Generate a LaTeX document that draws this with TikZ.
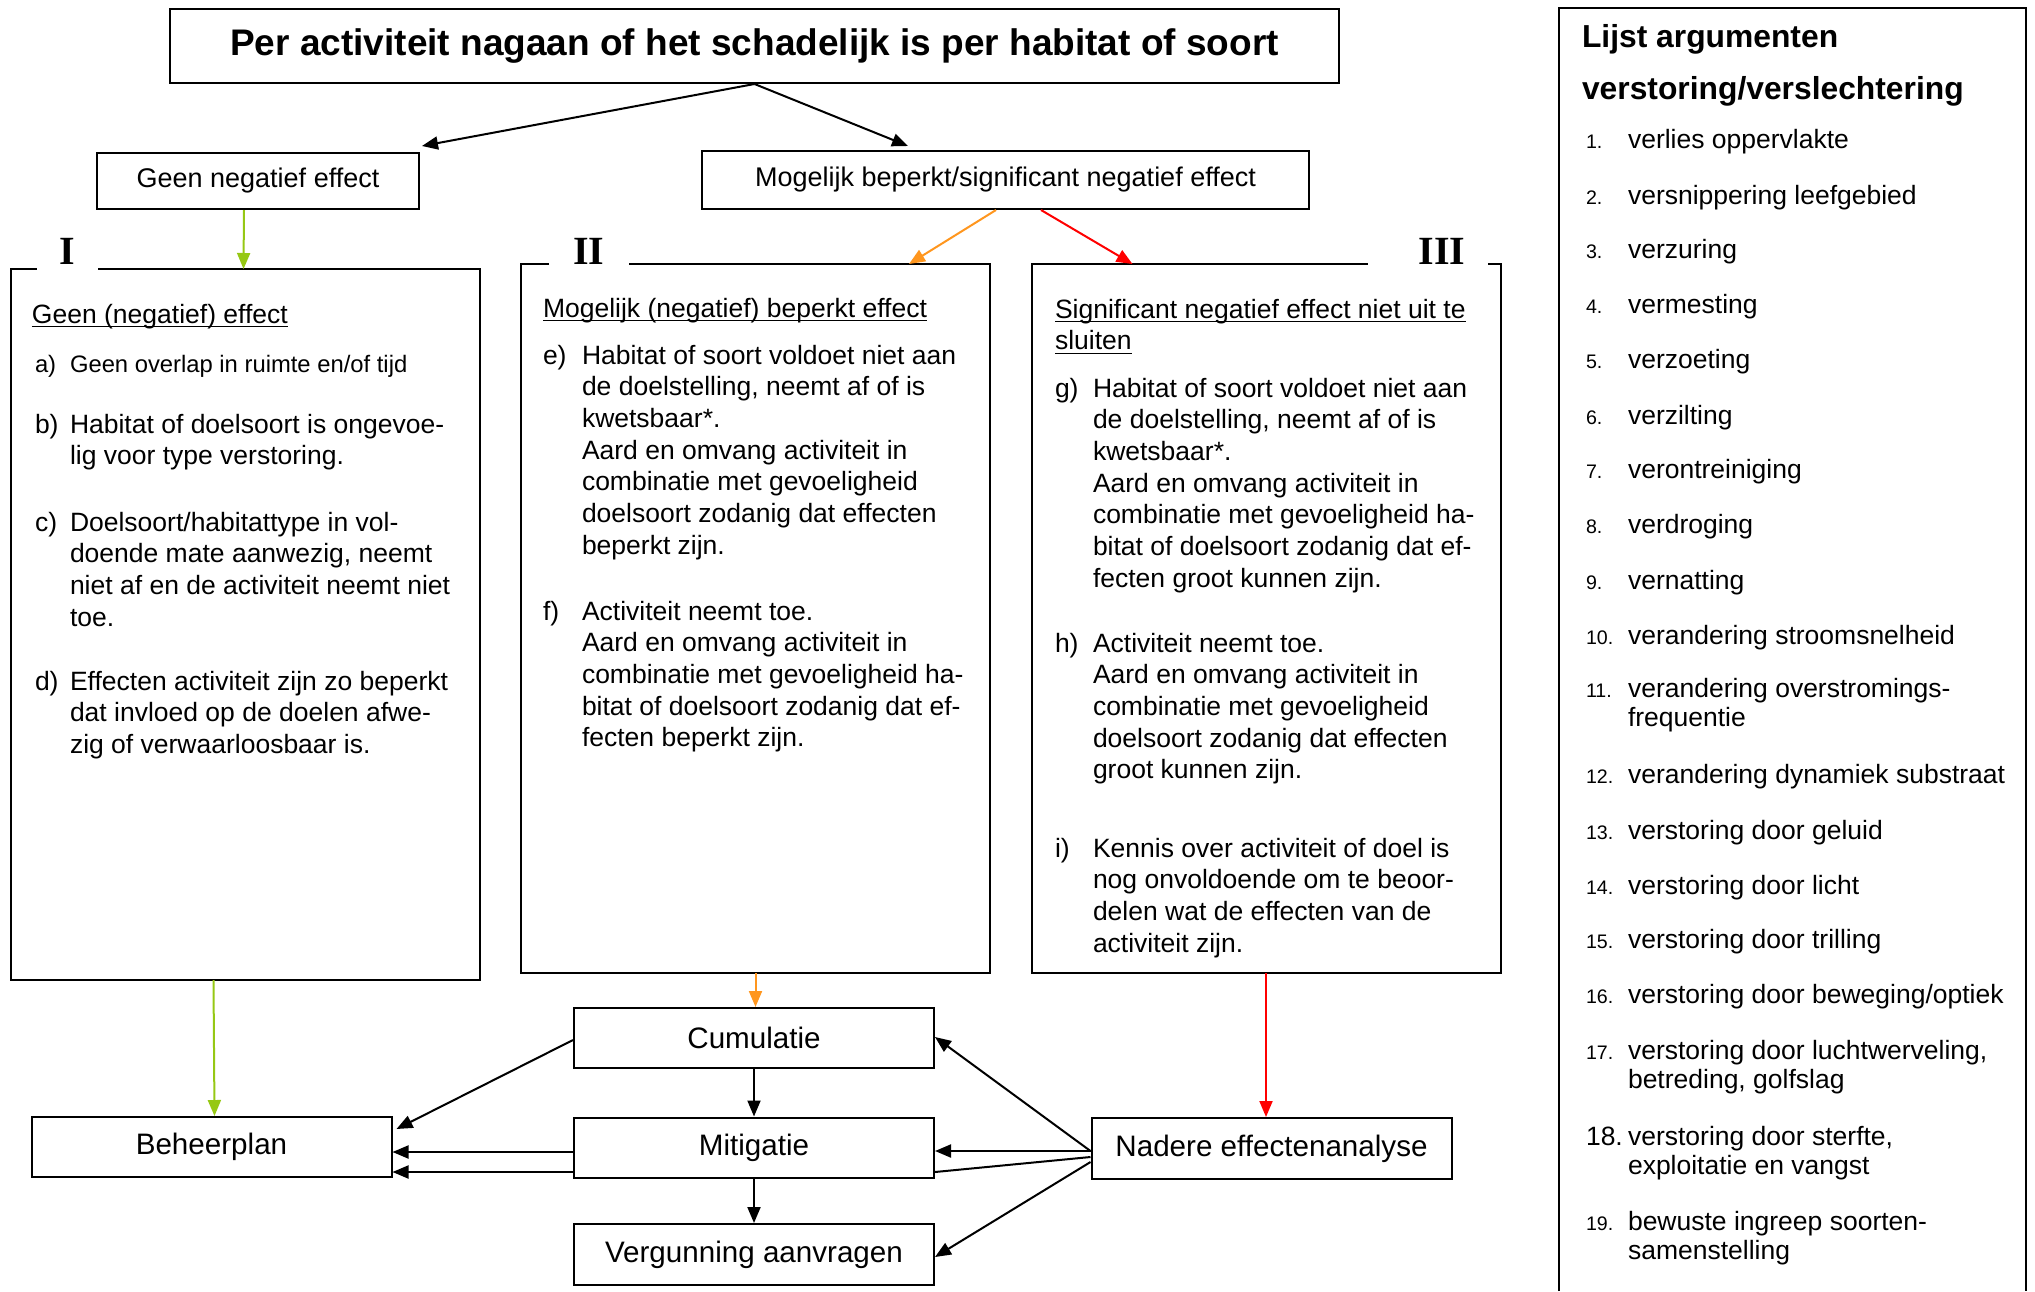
\documentclass[tikz,border=0pt]{standalone}
\usepackage{fontspec}
\setmainfont{Liberation Sans}
\newfontfamily\romeins{Liberation Serif}
\usetikzlibrary{arrows.meta,positioning,calc}

\definecolor{groen}{RGB}{150,200,20}
\definecolor{oranje}{RGB}{255,150,30}
\definecolor{rood}{RGB}{255,0,0}

\newsavebox{\streepdoos}
\newcommand{\streep}[1]{\sbox{\streepdoos}{#1}\rlap{\rule[-2.2pt]{\wd\streepdoos}{0.8pt}}\usebox{\streepdoos}}
% regels onder elkaar, basislijn op de eerste regel
\newcommand{\regels}[1]{\begin{tabular}[t]{@{}l@{}}#1\end{tabular}}

\begin{document}
\begin{tikzpicture}[x=0.5pt, y=-0.5pt, >={Triangle[length=8pt,width=6.5pt]}, line width=1pt]
    \tikzset{
        kader/.style={draw, rectangle, inner sep=0pt},
        keuze/.style={kader, minimum height=28pt, font=\fontsize{13.5}{16}\selectfont},
        vak/.style={kader, minimum width=180pt, minimum height=30pt, font=\fontsize{14.8}{17}\selectfont},
        kolom/.style={rectangle, inner sep=0pt, minimum width=233.5pt, minimum height=353.5pt},
        tekst/.style={anchor=base west, inner sep=0pt, font=\fontsize{13.25}{15.85}\selectfont},
        klein/.style={tekst, font=\fontsize{11.9}{14}\selectfont},
        romein/.style={anchor=base, inner sep=0pt, font=\romeins\bfseries\fontsize{20}{24}\selectfont},
        lijstnr/.style={anchor=base west, inner sep=0pt, font=\fontsize{9.8}{12}\selectfont},
        lijsttekst/.style={tekst, font=\fontsize{13.25}{14.75}\selectfont},
        line/.style={draw, ->}
    }
    \useasboundingbox (0,0) rectangle (2035,1291);

    % vraag en eerste keuze
    \node [kader, minimum width=584.5pt, minimum height=37pt, font=\bfseries\fontsize{18.5}{22}\selectfont] (titel) at (754.5,46) {Per activiteit nagaan of het schadelijk is per habitat of soort};
    \node [keuze, minimum width=161pt] (geen) at (258,181) {Geen negatief effect};
    \node [keuze, minimum width=303.5pt, minimum height=29pt] (mog) at (1005.5,180) {Mogelijk beperkt/significant negatief effect};

    % drie kolommen
    \node [kolom, minimum height=354.5pt] (colI) at (245,624.5) {};
    \node [kolom] (colII) at (755.5,618.5) {};
    \node [kolom] (colIII) at (1266,618.5) {};
    \draw ($(colI.north west)+(26,0)$) -| (colI.south west) -| (colI.north east) -- ($(colI.north west)+(87,0)$);
    \draw ($(colII.north west)+(28,0)$) -| (colII.south west) -| (colII.north east) -- ($(colII.north west)+(108,0)$);
    \draw ($(colIII.north west)+(336,0)$) -| (colIII.south west) -| (colIII.north east) -- ($(colIII.north west)+(456,0)$);
    \node [romein] (nrI) at (67,264) {I};
    \node [romein] (nrII) at (589,264) {II};
    \node [romein] (nrIII) at (1442,264) {III};

    % kolom I
    \node [tekst] (kopI) at (31,323) {\streep{Geen (negatief) effect}};
    \node [klein] (la) at (34,372) {a)};
    \node [klein] (ta) at (69,372) {Geen overlap in ruimte en/of tijd};
    \node [tekst] (lb) at (34,433) {b)};
    \node [tekst] (tb) at (69,433) {\regels{Habitat of doelsoort is ongevoe-\\lig voor type verstoring.}};
    \node [tekst] (lc) at (34,531) {c)};
    \node [tekst] (tc) at (69,531) {\regels{Doelsoort/habitattype in vol-\\doende mate aanwezig, neemt\\niet af en de activiteit neemt niet\\toe.}};
    \node [tekst] (ld) at (34,690) {d)};
    \node [tekst] (td) at (69,690) {\regels{Effecten activiteit zijn zo beperkt\\dat invloed op de doelen afwe-\\zig of verwaarloosbaar is.}};

    % kolom II
    \node [tekst] (kopII) at (542,317) {\streep{Mogelijk (negatief) beperkt effect}};
    \node [tekst] (le) at (542,364) {e)};
    \node [tekst] (te) at (581,364) {\regels{Habitat of soort voldoet niet aan\\de doelstelling, neemt af of is\\kwetsbaar*.\\Aard en omvang activiteit in\\combinatie met gevoeligheid\\doelsoort zodanig dat effecten\\beperkt zijn.}};
    \node [tekst] (lf) at (542,620) {f)};
    \node [tekst] (tf) at (581,620) {\regels{Activiteit neemt toe.\\Aard en omvang activiteit in\\combinatie met gevoeligheid ha-\\bitat of doelsoort zodanig dat ef-\\fecten beperkt zijn.}};

    % kolom III
    \node [tekst] (kopIII) at (1054,318) {\regels{\streep{Significant negatief effect niet uit te}\\\streep{sluiten}}};
    \node [tekst] (lg) at (1054,397) {g)};
    \node [tekst] (tg) at (1092,397) {\regels{Habitat of soort voldoet niet aan\\de doelstelling, neemt af of is\\kwetsbaar*.\\Aard en omvang activiteit in\\combinatie met gevoeligheid ha-\\bitat of doelsoort zodanig dat ef-\\fecten groot kunnen zijn.}};
    \node [tekst] (lh) at (1054,652) {h)};
    \node [tekst] (th) at (1092,652) {\regels{Activiteit neemt toe.\\Aard en omvang activiteit in\\combinatie met gevoeligheid\\doelsoort zodanig dat effecten\\groot kunnen zijn.}};
    \node [tekst] (li) at (1054,857) {i)};
    \node [tekst] (ti) at (1092,857) {\regels{Kennis over activiteit of doel is\\nog onvoldoende om te beoor-\\delen wat de effecten van de\\activiteit zijn.}};

    % vervolgstappen
    \node [vak] (cum) at (754,1038) {Cumulatie};
    \node [vak] (mit) at (754,1147.5) {Mitigatie};
    \node [vak, minimum height=30.5pt] (verg) at (754,1254.5) {Vergunning aanvragen};
    \node [vak] (beh) at (211.5,1147) {Beheerplan};
    \node [vak, minimum height=30.5pt] (nad) at (1271.5,1148.5) {Nadere effectenanalyse};

    % pijlen
    \path [line] (titel.south) -- ($(geen.north east)+(2,-6)$);
    \path [line] (titel.south) -- ($(mog.north west)+(207,-4)$);
    \path [line, groen] ($(geen.south west)+(148,0)$) -- ($(colI.north west)+(233,0)$);
    \path [line, oranje] ($(mog.south west)+(295,0)$) -- ($(colII.north west)+(388,0)$);
    \path [line, rood] ($(mog.south west)+(340,0)$) -- ($(colIII.north west)+(101,0)$);
    \path [line, groen] ($(colI.south west)+(203,0)$) -- ($(beh.north west)+(184,0)$);
    \path [line, oranje] (colII.south) -- (colII.south |- cum.north);
    \path [line, rood] (colIII.south) -- (colIII.south |- nad.north);
    \path [line] (cum.south) -- (mit.north);
    \path [line] (mit.south) -- (verg.north);
    \path [line] ($(cum.west)+(0,2)$) -- ($(beh.north east)+(4,13)$);
    \path [line] ($(mit.west)+(0,4.5)$) -- ($(beh.east)+(0,5)$);
    \path [line] ($(mit.west)+(0,24.5)$) -- ($(beh.east)+(0,25)$);
    \path [line] ($(nad.west)+(0,2.5)$) -- ($(cum.east)+(0,-1)$);
    \path [line] ($(nad.west)+(0,2.5)$) -- ($(mit.east)+(0,3.5)$);
    \draw ($(nad.west)+(0,8.5)$) -- ($(mit.east)+(0,24.5)$);
    \path [line] ($(nad.west)+(0,13.5)$) -- ($(verg.east)+(0,2.5)$);

    % lijst argumenten
    \coordinate (lijstLO) at (1559,1291);
    \coordinate (lijstRB) at (2026,8);
    \draw (lijstLO) |- (lijstRB) -- (lijstRB |- lijstLO);
    \node [tekst, font=\bfseries\fontsize{15.9}{26}\selectfont] (lijstkop) at (1581,47) {\regels{Lijst argumenten\\verstoring/verslechtering}};
    \foreach \nr/\y/\wat [count=\i] in {1./148/verlies oppervlakte, 2./204/versnippering leefgebied, 3./258/verzuring, 4./313/vermesting, 5./368/verzoeting, 6./424/verzilting, 7./478/verontreiniging, 8./533/verdroging, 9./589/vernatting, 10./644/verandering stroomsnelheid, 11./697/verandering overstromings-\\frequentie, 12./783/verandering dynamiek substraat, 13./839/verstoring door geluid, 14./894/verstoring door licht, 15./948/verstoring door trilling, 16./1003/{verstoring door beweging/optiek}, 17./1059/{verstoring door luchtwerveling,\\betreding, golfslag}, {\fontsize{13.25}{15}\selectfont 18.}/1145/{verstoring door sterfte,\\exploitatie en vangst}, 19./1230/bewuste ingreep soorten-\\samenstelling} {
        \node [lijstnr] (nr\i) at (1585,\y) {\nr};
        \node [lijsttekst] (item\i) at (1627,\y) {\regels{\wat}};
    }
\end{tikzpicture}
\end{document}
